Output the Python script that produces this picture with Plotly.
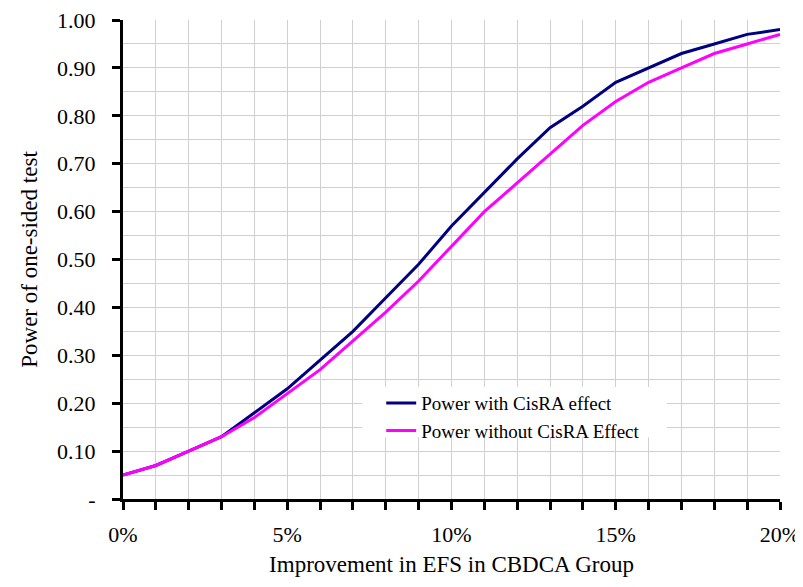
import plotly.graph_objects as go

improvement = [i / 100 for i in range(0, 21)]
power_with = [0.05, 0.07, 0.10, 0.13, 0.18, 0.23, 0.29, 0.35, 0.42, 0.49, 0.57,
              0.64, 0.71, 0.775, 0.82, 0.87, 0.90, 0.93, 0.95, 0.97, 0.98]
power_without = [0.05, 0.07, 0.10, 0.13, 0.17, 0.22, 0.27, 0.33, 0.39, 0.455, 0.527,
                 0.60, 0.66, 0.72, 0.78, 0.83, 0.87, 0.90, 0.93, 0.95, 0.97]
x_tickvals = [i / 100 for i in range(0, 21)]
x_ticktext = ["0%" if i == 0 else (f"{i}%" if i % 5 == 0 else "") for i in range(0, 21)]
y_tickvals = [i / 10 for i in range(0, 11)]
y_ticktext = ["-"] + [f"{v:.2f}" for v in y_tickvals[1:]]

font = "Liberation Serif"

fig = go.Figure()
fig.add_trace(go.Scatter(x=improvement, y=power_with, mode="lines",
                         name="Power with CisRA effect",
                         line=dict(color="#000080", width=3)))
fig.add_trace(go.Scatter(x=improvement, y=power_without, mode="lines",
                         name="Power without CisRA Effect",
                         line=dict(color="#FF00FF", width=3)))

# white legend box behind the legend entries
fig.add_shape(type="rect", xref="paper", yref="paper",
              x0=0.364, x1=0.828, y0=0.129, y1=0.234,
              fillcolor="white", line=dict(width=0), layer="above")

fig.update_layout(
    width=795, height=579,
    margin=dict(l=115, r=23, t=12, b=88),
    paper_bgcolor="white", plot_bgcolor="white",
    font=dict(family=font, size=22, color="black"),
    showlegend=True,
    legend=dict(x=0.393, y=0.240, xanchor="left", yanchor="top",
                bgcolor="rgba(0,0,0,0)", font=dict(family=font, size=19),
                itemwidth=30, tracegroupgap=0),
)
fig.update_xaxes(
    range=[0, 0.20], tickvals=x_tickvals, ticktext=x_ticktext,
    automargin=False, ticklabeloverflow="allow",
    showline=True, linecolor="black", linewidth=3,
    ticks="outside", ticklen=8, tickwidth=3, tickcolor="black",
    ticklabelstandoff=6,
    tickfont=dict(family=font, size=22),
    showgrid=True, gridcolor="#d0d0d0", gridwidth=1, zeroline=False,
    title=dict(text="Improvement in EFS in CBDCA Group", standoff=10,
               font=dict(family=font, size=23)),
)
fig.update_yaxes(
    range=[0, 1.0], tickvals=y_tickvals, ticktext=y_ticktext,
    automargin=False, ticklabeloverflow="allow",
    showline=True, linecolor="black", linewidth=3,
    ticks="outside", ticklen=8, tickwidth=3, tickcolor="black",
    ticklabelstandoff=12,
    tickfont=dict(family=font, size=22),
    showgrid=True, gridcolor="#d0d0d0", gridwidth=1, zeroline=False,
    minor=dict(dtick=0.05, showgrid=True, gridcolor="#d0d0d0", gridwidth=1, ticks=""),
    title=dict(text="Power of one-sided test", standoff=14,
               font=dict(family=font, size=23)),
)

fig.write_html("out.html")
